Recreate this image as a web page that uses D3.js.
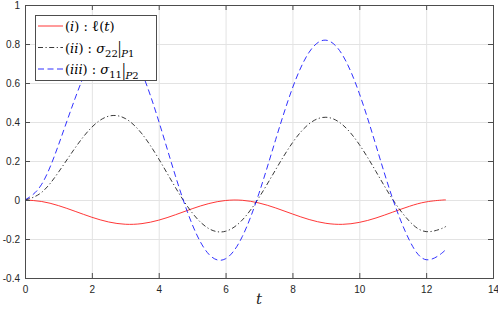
<!DOCTYPE html>
<html><head><meta charset="utf-8">
<script src="https://cdn.jsdelivr.net/npm/d3@7"></script>
<style>
html,body{margin:0;padding:0;background:#fff;}
svg{display:block;}
</style></head>
<body>
<script>
// ---- data ----
const tVals = [0,0.5,1,1.5,2,2.5,3,3.5,4,4.5,5,5.5,6,6.5,7,7.5,8,8.5,9,9.5,10,10.5,11,11.5,12,12.5,12.566];
const ellT  = [0,-0.0077,-0.0287,-0.0581,-0.0885,-0.1126,-0.1244,-0.1210,-0.1034,-0.0757,-0.0448,-0.0182,-0.0025,-0.0015,-0.0154,-0.0408,-0.0716,-0.1001,-0.1194,-0.1248,-0.1149,-0.0922,-0.0622,-0.0323,-0.0098,-0.0001,0];
const sigma22P1 = [0,0.0395,0.1423,0.2672,0.3737,0.4297,0.4179,0.3390,0.2110,0.0644,-0.0654,-0.1468,-0.1603,-0.1025,0.0124,0.1560,0.2934,0.3907,0.4243,0.3858,0.2847,0.1457,0.0028,-0.1089,-0.1621,-0.1438,-0.136];
const sigma11P2 = [0,0.081,0.2814,0.5219,0.7252,0.8306,0.8054,0.6517,0.4047,0.1235,-0.1242,-0.2783,-0.3012,-0.1876,0.0345,0.3106,0.5733,0.7580,0.8196,0.7430,0.5469,0.2793,0.0058,-0.2067,-0.3062,-0.2683,-0.253];
const xTicks = [0,2,4,6,8,10,12,14];
const yTicks = [-0.4,-0.2,0,0.2,0.4,0.6,0.8,1];
const xLabel = "t";

// ---- layout ----
const W = 498, H = 313;
const L = 25, R = 493, TOP = 5, BOT = 278;
const svg = d3.select("body").append("svg").attr("width", W).attr("height", H);
const x = d3.scaleLinear().domain([0,14]).range([L,R]);
const y = d3.scaleLinear().domain([-0.4,1]).range([BOT,TOP]);

// grid
const g = svg.append("g");
g.selectAll(".gx").data(xTicks.slice(1,-1)).join("line")
  .attr("x1", d=>x(d)+0.5).attr("x2", d=>x(d)+0.5).attr("y1", TOP).attr("y2", BOT)
  .attr("stroke", "#e3e3e3").attr("stroke-width", 1);
g.selectAll(".gy").data(yTicks.slice(1,-1)).join("line")
  .attr("y1", d=>Math.round(y(d))+0.5).attr("y2", d=>Math.round(y(d))+0.5).attr("x1", L).attr("x2", R)
  .attr("stroke", "#e3e3e3").attr("stroke-width", 1);

// curves
const series = [
  {vals: ellT, color: "#ff2020", dash: null},
  {vals: sigma22P1, color: "#222", dash: "5,2.5,1.2,2.5"},
  {vals: sigma11P2, color: "#1a1aff", dash: "6,3.5"}
];
const line = d3.line().curve(d3.curveNatural).x((d,i)=>x(tVals[i])).y(d=>y(d));
series.forEach(s=>{
  svg.append("path").attr("d", line(s.vals)).attr("fill","none")
    .attr("stroke", s.color).attr("stroke-width", 0.9)
    .attr("stroke-dasharray", s.dash);
});

// axes (box with ticks on all sides)
const axCol = "#4d4d4d";
const fmt = d => String(+d.toFixed(1));
const axB = d3.axisBottom(x).tickValues(xTicks).tickSize(-5).tickPadding(8).tickFormat(fmt);
const axL = d3.axisLeft(y).tickValues(yTicks).tickSize(-5).tickPadding(5).tickFormat(fmt);
const axT = d3.axisTop(x).tickValues(xTicks).tickSize(-5).tickFormat("");
const axR = d3.axisRight(y).tickValues(yTicks).tickSize(-5).tickFormat("");
function style(sel){
  sel.selectAll("path").attr("stroke", axCol);
  sel.selectAll("line").attr("stroke", axCol);
  sel.selectAll("text").attr("fill", "#262626").style("font-family","'Liberation Sans',Arial,sans-serif").style("font-size","10px");
}
svg.append("g").attr("transform",`translate(0,${BOT})`).call(axB).call(style);
svg.append("g").attr("transform",`translate(${L},0)`).call(axL).call(style);
svg.append("g").attr("transform",`translate(0,${TOP})`).call(axT).call(style);
svg.append("g").attr("transform",`translate(${R},0)`).call(axR).call(style);

// x label
svg.append("text").attr("x", x(7)).attr("y", 304).attr("text-anchor","middle")
  .style("font-family","'DejaVu Serif',serif").style("font-style","italic")
  .style("font-size","15px").attr("fill","#262626").text(xLabel);

// legend
const lg = svg.append("g");
lg.append("rect").attr("x",35.5).attr("y",15.5).attr("width",121).attr("height",65)
  .attr("fill","#fff").attr("stroke", axCol).attr("stroke-width",1);
const rowsY = [26, 47.5, 69];
// parts: [text, style, dy]; style: n normal, i italic, l script-ell, s sub, si italic sub, b bar
const labels = [
  [["(","n",0],["i","i",0],[")","n",0],[" : ","n",0],["ℓ","l",0],["(","n",0],["t","i",0],[")","n",0]],
  [["(","n",0],["ii","i",0],[")","n",0],[" : ","n",0],["σ","i",0],["22","s",4],["|","b",-2.5],["P","si",3],["1","s",0]],
  [["(","n",0],["iii","i",0],[")","n",0],[" : ","n",0],["σ","i",0],["11","s",4],["|","b",-2.5],["P","si",3],["2","s",0]]
];
series.forEach((s,i)=>{
  lg.append("line").attr("x1",38).attr("x2",63).attr("y1",rowsY[i]).attr("y2",rowsY[i])
    .attr("stroke", s.color).attr("stroke-width",0.9).attr("stroke-dasharray", s.dash);
  const t = lg.append("text").attr("x",65).attr("y",rowsY[i]+5)
    .style("font-family","'DejaVu Serif',serif").style("font-size","13px").attr("fill","#000");
  labels[i].forEach(([txt,k,dy])=>{
    const sp = t.append("tspan").text(txt).attr("dy", dy);
    if (k==="i" || k==="si") sp.style("font-style","italic");
    if (k==="l") sp.style("font-family","'Liberation Serif',serif").style("font-size","15px");
    if (k==="s" || k==="si") sp.style("font-size","10px");
    if (k==="b") sp.style("font-family","'Liberation Serif',serif").style("font-size","18px");
  });
});
</script>
</body></html>
